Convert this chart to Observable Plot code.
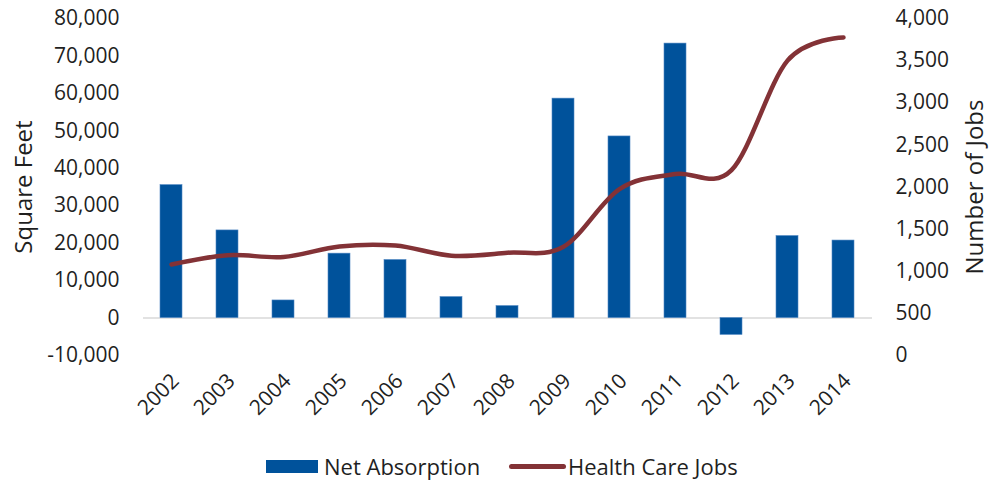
<!DOCTYPE html>
<html>
<head>
<meta charset="utf-8">
<script src="https://cdn.jsdelivr.net/npm/d3@7"></script>
<script src="https://cdn.jsdelivr.net/npm/@observablehq/plot@0.6"></script>
<style>
  html, body { margin: 0; padding: 0; background: #fff; }
  #chart { width: 998px; position: relative; }
  #legend { position: relative; width: 998px; height: 40px; font-family: "Open Sans", sans-serif; font-size: 22px; color: #1f1f1f; }
  #legend .sw, #legend .lbl { position: absolute; }
  #legend .lbl { line-height: 26px; white-space: nowrap; }
</style>
</head>
<body>
<div id="chart"></div>
<div id="legend"></div>
<script>
const years = ["2002","2003","2004","2005","2006","2007","2008","2009","2010","2011","2012","2013","2014"];
const netAbsorption = [35500, 23400, 4700, 17200, 15500, 5600, 3200, 58600, 48500, 73300, -4500, 21900, 20700];
const healthCareJobs = [1080, 1190, 1170, 1295, 1305, 1185, 1220, 1290, 1975, 2155, 2200, 3500, 3775];
const leftTicks = [-10000, 0, 10000, 20000, 30000, 40000, 50000, 60000, 70000, 80000];
const rightTicks = [0, 500, 1000, 1500, 2000, 2500, 3000, 3500, 4000];
const seriesNames = ["Net Absorption", "Health Care Jobs"];
const axisTitles = ["Square Feet", "Number of Jobs"];

const barColor = "#00529b";
const lineColor = "#833236";
const textColor = "#1f1f1f";

// secondary axis (jobs 0..4000) mapped onto primary (-10,000..80,000)
const leftMin = -10000, leftMax = 80000, rightMax = 4000;
const toLeft = v => leftMin + v * (leftMax - leftMin) / rightMax;
const fromLeft = d => (d - leftMin) * rightMax / (leftMax - leftMin);

const bars = years.map((y, i) => ({year: y, value: netAbsorption[i]}));
const line = years.map((y, i) => ({year: y, jobs: healthCareJobs[i], yl: toLeft(healthCareJobs[i])}));
const fmt = v => Math.round(v).toLocaleString("en-US");

const plot = Plot.plot({
  width: 998,
  height: 440,
  marginTop: 18,
  marginBottom: 85,
  marginLeft: 143,
  marginRight: 126,
  style: {fontFamily: "'Open Sans', sans-serif", fontSize: "21px", color: textColor, background: "#fff"},
  x: {domain: years, paddingInner: 0.6, paddingOuter: 0.3, align: 0.5},
  y: {domain: [leftMin, leftMax], nice: false},
  marks: [
    Plot.ruleY([0], {stroke: "#d9d9d9", strokeWidth: 1.5}),
    Plot.barY(bars, {x: "year", y: "value", fill: barColor, stroke: "#4f86c2", strokeWidth: 0.6}),
    Plot.line(line, {x: "year", y: "yl", stroke: lineColor, strokeWidth: 4.5, curve: "cardinal", strokeLinecap: "round", strokeLinejoin: "round"}),
    Plot.axisY(leftTicks, {anchor: "left", tickSize: 0, tickPadding: 24, tickFormat: fmt, label: null, fill: textColor}),
    Plot.axisY(rightTicks.map(toLeft), {anchor: "right", tickSize: 0, tickPadding: 23, tickFormat: d => fmt(fromLeft(d)), label: null, fill: textColor}),
    Plot.axisX({tickSize: 0, tickRotate: -45, tickPadding: 22, dx: 4, label: null, fill: textColor}),
    Plot.text([axisTitles[0]], {frameAnchor: "left", dx: -119, rotate: -90, textAnchor: "middle", lineAnchor: "middle", fontSize: 24, fill: textColor}),
    Plot.text([axisTitles[1]], {frameAnchor: "right", dx: 103, rotate: -90, textAnchor: "middle", lineAnchor: "middle", fontSize: 24, fill: textColor})
  ]
});
document.getElementById("chart").appendChild(plot);

const legend = document.getElementById("legend");
legend.innerHTML = `
  <div class="sw" style="left:266px; top:20px; width:52px; height:13px; background:${barColor};"></div>
  <div class="lbl" style="left:324px; top:13px;">${seriesNames[0]}</div>
  <div class="sw" style="left:509px; top:24px; width:57px; height:5px; border-radius:3px; background:${lineColor};"></div>
  <div class="lbl" style="left:568px; top:13px;">${seriesNames[1]}</div>
`;
</script>
</body>
</html>
